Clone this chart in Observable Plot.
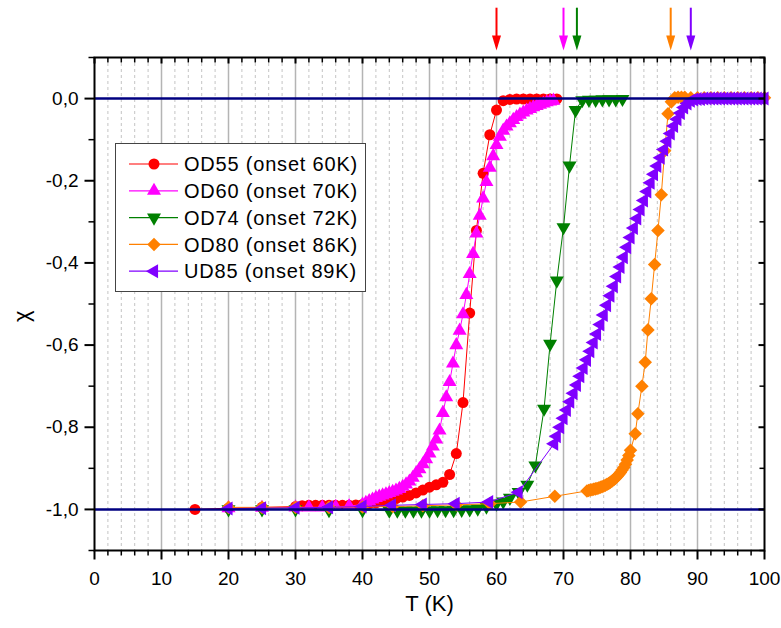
<!DOCTYPE html>
<html>
<head>
<meta charset="utf-8">
<script src="https://cdn.jsdelivr.net/npm/d3@7"></script>
<script src="https://cdn.jsdelivr.net/npm/@observablehq/plot@0.6"></script>
<style>
  html, body { margin: 0; padding: 0; background: white; }
  #wrap { position: relative; width: 781px; height: 628px; font-family: "Liberation Sans", Arial, sans-serif; }
  #legend { position: absolute; left: 115px; top: 143px; width: 249px; height: 147px; border: 1.5px solid #444; background: white; }
</style>
</head>
<body>
<div id="wrap"></div>
<script>
// ---------- data (T in K, chi) ----------
const od55 = [[15,-1.000],[20,-0.997],[25,-0.995],[30,-0.993],[31,-0.991],[32,-0.990],[33,-0.990],[34,-0.990],[35,-0.990],[36,-0.990],[37,-0.990],[38,-0.990],[39,-0.989],[40,-0.988],[41,-0.986],[42,-0.984],[43,-0.981],[44,-0.978],[45,-0.974],[46,-0.970],[47,-0.966],[48,-0.960],[49,-0.953],[50,-0.946],[51,-0.940],[52,-0.934],[53,-0.915],[54,-0.864],[55,-0.740],[56,-0.522],[57,-0.321],[58,-0.182],[59,-0.088],[60,-0.028],[61,-0.005],[62,-0.002],[63,-0.001],[64,-0.001],[65,-0.001],[66,-0.001],[67,-0.001],[68,-0.001],[69,-0.001]];

const od60 = [[20,-0.997],[25,-0.996],[30,-0.995],[32,-0.995],[34,-0.995],[36,-0.994],[38,-0.992],[40,-0.988],[40.5,-0.984],[41,-0.980],[41.5,-0.976],[42,-0.972],[42.5,-0.969],[43,-0.966],[43.5,-0.963],[44,-0.960],[44.5,-0.957],[45,-0.954],[45.5,-0.950],[46,-0.945],[46.5,-0.939],[47,-0.932],[47.5,-0.923],[48,-0.912],[48.5,-0.902],[49,-0.890],[49.5,-0.878],[50,-0.864],[50.5,-0.847],[51,-0.830],[51.5,-0.808],[52,-0.765],[52.5,-0.727],[53,-0.690],[53.5,-0.645],[54,-0.600],[54.5,-0.565],[55,-0.525],[55.5,-0.478],[56,-0.427],[56.5,-0.378],[57,-0.328],[57.5,-0.285],[58,-0.243],[58.5,-0.203],[59,-0.168],[59.5,-0.140],[60,-0.113],[60.5,-0.093],[61,-0.078],[61.5,-0.068],[62,-0.060],[62.5,-0.052],[63,-0.045],[63.5,-0.039],[64,-0.034],[64.5,-0.029],[65,-0.025],[65.5,-0.021],[66,-0.018],[66.5,-0.015],[67,-0.012],[67.5,-0.009],[68,-0.007],[68.5,-0.005]];

const od74 = [[20,-1.000],[25,-1.000],[30,-1.000],[35,-1.002],[40,-1.002],[44,-1.003],[45.2,-1.003],[46.4,-1.003],[47.6,-1.003],[48.8,-1.003],[50,-1.003],[51.2,-1.002],[52.4,-1.002],[53.6,-1.002],[54.8,-1.001],[56,-1.000],[57.2,-0.998],[58.5,-0.993],[60,-0.986],[61,-0.981],[62,-0.972],[63.3,-0.958],[64.6,-0.940],[65.8,-0.893],[67.1,-0.755],[68,-0.597],[69,-0.443],[70,-0.313],[70.9,-0.163],[71.8,-0.028],[72.8,-0.004],[73.8,-0.003],[74.8,-0.003],[75.8,-0.002],[76.8,-0.002],[77.8,-0.002],[78.8,-0.001]];

const od80 = [[20,-0.995],[25,-0.995],[30,-0.995],[35,-0.995],[40,-0.994],[44.5,-0.993],[49,-0.991],[54,-0.989],[59,-0.986],[63.6,-0.982],[68.7,-0.968],[73.5,-0.955],[73.75,-0.954],[74,-0.953],[74.25,-0.952],[74.5,-0.951],[74.75,-0.950],[75,-0.949],[75.25,-0.948],[75.5,-0.946],[75.75,-0.945],[76,-0.943],[76.25,-0.941],[76.5,-0.939],[76.75,-0.937],[77,-0.934],[77.25,-0.931],[77.5,-0.928],[77.75,-0.924],[78,-0.920],[78.25,-0.915],[78.5,-0.910],[78.75,-0.904],[79,-0.898],[79.25,-0.890],[79.5,-0.880],[79.75,-0.869],[80,-0.856],[80.7,-0.816],[81.1,-0.767],[81.7,-0.700],[82.2,-0.642],[82.6,-0.563],[83.1,-0.487],[83.6,-0.404],[84.1,-0.321],[84.6,-0.234],[85.1,-0.127],[85.6,-0.037],[86.1,-0.008],[86.6,0.002],[87.1,0.003],[87.6,0.003],[88.1,0.003],[89,0.002],[90,0.002],[91,0.002],[92,0.002],[93,0.002],[94,0.002],[95,0.002],[96,0.002],[97,0.002],[98,0.002],[99,0.002],[100,0.002]];

const ud85 = [[20,-0.998],[25,-0.997],[30,-0.996],[35,-0.995],[40,-0.993],[44.4,-0.990],[49,-0.988],[53.9,-0.986],[58.9,-0.982],[63.3,-0.958],[68.6,-0.840],[69,-0.822],[69.5,-0.800],[70,-0.778],[70.5,-0.758],[71,-0.738],[71.5,-0.717],[72,-0.697],[72.5,-0.676],[73,-0.656],[73.5,-0.636],[74,-0.615],[74.5,-0.594],[75,-0.573],[75.5,-0.550],[76,-0.527],[76.5,-0.503],[77,-0.480],[77.5,-0.457],[78,-0.433],[78.5,-0.410],[79,-0.386],[79.5,-0.362],[80,-0.338],[80.5,-0.315],[81,-0.292],[81.5,-0.270],[82,-0.248],[82.5,-0.226],[83,-0.205],[83.5,-0.184],[84,-0.164],[84.5,-0.144],[85,-0.124],[85.5,-0.104],[86,-0.085],[86.5,-0.067],[87,-0.050],[87.5,-0.035],[88,-0.022],[88.5,-0.012],[89,-0.005],[89.5,-0.002],[90,-0.001],[90.5,-0.001],[91,0],[91.5,0],[92,0],[92.5,0],[93,0],[93.5,0],[94,0],[94.5,0],[95,0],[95.5,0],[96,0],[96.5,0],[97,0],[97.5,0],[98,0],[98.5,0],[99,0],[99.5,0],[100,0]];

const seriesNames = ["OD55 (onset 60K)", "OD60 (onset 70K)", "OD74 (onset 72K)", "OD80 (onset 86K)", "UD85 (onset 89K)"];
const seriesColors = ["#ff0000", "#ff00ff", "#008000", "#ff8000", "#8000ff"];
const onsets = [60, 70, 72, 86, 89];

const xMajor = [0, 10, 20, 30, 40, 50, 60, 70, 80, 90, 100];
const xMinor = [2,4,6,8,12,14,16,18,22,24,26,28,32,34,36,38,42,44,46,48,52,54,56,58,62,64,66,68,72,74,76,78,82,84,86,88,92,94,96,98];
const xGridMajor = [10, 20, 30, 40, 50, 60, 70, 80, 90];
const yMajor = [0, -0.2, -0.4, -0.6, -0.8, -1.0];
const yMinor = [0.1, -0.1, -0.3, -0.5, -0.7, -0.9, -1.1];
const yRefLines = [0, -1];

const xDomain = [0, 100];
const yDomain = [-1.1, 0.1];
const arrowFrom = 0.22, arrowTo = 0.117;

// ---------- symbols ----------
const series = [
  {data: od55, symbol: "circle", r: 5.5, rotate: 0},
  {data: od60, symbol: "triangle", r: 5.2, rotate: 0},
  {data: od74, symbol: "triangle", r: 5.2, rotate: 180},
  {data: od80, symbol: "square", r: 5.4, rotate: 45},
  {data: ud85, symbol: "triangle", r: 5.2, rotate: -90}
].map((s, i) => ({...s, color: seriesColors[i], name: seriesNames[i]}));

const seg = (dx, dy) => ({draw(c) { c.moveTo(0, 0); c.lineTo(dx, dy); }});
const arrowHead = {draw(c) { c.moveTo(-4.5, -15); c.lineTo(4.5, -15); c.lineTo(0, 0); c.closePath(); }};
const fmtY = d => (d < 0 ? "-" : "") + Math.abs(d).toFixed(1).replace(".", ",");

const marks = [
  Plot.ruleX(xMinor, {stroke: "#c4c4c4", strokeWidth: 1, strokeDasharray: "3,3"}),
  Plot.ruleX(xGridMajor, {stroke: "#b4b4b4", strokeWidth: 1.5})
];
for (const s of series) {
  marks.push(Plot.line(s.data, {x: d => d[0], y: d => d[1], stroke: s.color, strokeWidth: 1}));
  marks.push(Plot.dot(s.data, {x: d => d[0], y: d => d[1], symbol: s.symbol, r: s.r, rotate: s.rotate, fill: s.color, stroke: "none"}));
}
marks.push(
  Plot.ruleY(yRefLines, {stroke: "#000080", strokeWidth: 2.5}),
  Plot.frame({stroke: "black", strokeWidth: 2}),
  // bottom ticks (outward)
  Plot.dot(xMajor, {x: d => d, y: yDomain[0], symbol: seg(0, 9), stroke: "black", strokeWidth: 2, fill: "none"}),
  Plot.dot(xMinor, {x: d => d, y: yDomain[0], symbol: seg(0, 5), stroke: "black", strokeWidth: 1.5, fill: "none"}),
  // top ticks (inward)
  Plot.dot(xMajor, {x: d => d, y: yDomain[1], symbol: seg(0, 6), stroke: "black", strokeWidth: 2, fill: "none"}),
  Plot.dot(xMinor, {x: d => d, y: yDomain[1], symbol: seg(0, 5), stroke: "black", strokeWidth: 1.5, fill: "none"}),
  // left ticks (outward)
  Plot.dot(yMajor, {x: xDomain[0], y: d => d, symbol: seg(-10, 0), stroke: "black", strokeWidth: 2, fill: "none"}),
  Plot.dot(yMinor, {x: xDomain[0], y: d => d, symbol: seg(-6, 0), stroke: "black", strokeWidth: 1.5, fill: "none"}),
  // right ticks (inward)
  Plot.dot(yMajor, {x: xDomain[1], y: d => d, symbol: seg(-6, 0), stroke: "black", strokeWidth: 2, fill: "none"}),
  Plot.dot(yMinor, {x: xDomain[1], y: d => d, symbol: seg(-5, 0), stroke: "black", strokeWidth: 1.5, fill: "none"}),
  // tick labels
  Plot.text(xMajor, {x: d => d, y: yDomain[0], text: d => String(d), dy: 28, fontSize: 19}),
  Plot.text(yMajor, {x: xDomain[0], y: d => d, text: fmtY, textAnchor: "end", dx: -16, fontSize: 19}),
  // axis titles
  Plot.text(["T (K)"], {frameAnchor: "bottom", text: d => d, dy: 60, fontSize: 22}),
  Plot.text(["χ"], {frameAnchor: "left", text: d => d, dx: -73, dy: 18, rotate: -90, fontSize: 22}),
  // onset arrows
  Plot.ruleX(onsets, {x: d => d, y1: arrowFrom, y2: arrowTo + 0.02, stroke: (d, i) => seriesColors[i], strokeWidth: 2}),
  Plot.dot(onsets, {x: d => d, y: arrowTo, symbol: arrowHead, fill: (d, i) => seriesColors[i], stroke: "none"})
);

const chart = Plot.plot({
  width: 781,
  height: 628,
  marginLeft: 94,
  marginRight: 17,
  marginTop: 57,
  marginBottom: 78,
  x: {domain: xDomain, axis: null},
  y: {domain: yDomain, axis: null},
  color: {type: "identity"},
  style: {fontFamily: "'Liberation Sans', Arial, sans-serif", background: "white", overflow: "visible"},
  marks
});
document.getElementById("wrap").appendChild(chart);

// ---------- legend ----------
const leg = d3.select("#wrap").append("div").attr("id", "legend");
const lsvg = leg.append("svg").attr("width", 249).attr("height", 147);
const symMap = {circle: d3.symbolCircle, triangle: d3.symbolTriangle, square: d3.symbolSquare};
series.forEach((s, i) => {
  const g = lsvg.append("g").attr("transform", `translate(0,${20 + i * 26.8})`);
  g.append("line").attr("x1", 13).attr("x2", 62).attr("y1", 0).attr("y2", 0)
    .attr("stroke", s.color).attr("stroke-width", 1.2);
  g.append("path").attr("d", d3.symbol(symMap[s.symbol], Math.PI * s.r * s.r)())
    .attr("transform", `translate(38,0) rotate(${s.rotate})`).attr("fill", s.color);
  g.append("text").attr("x", 68).attr("y", 0).attr("dy", "0.36em")
    .attr("font-size", 20).attr("letter-spacing", "0.8px")
    .attr("font-family", "'Liberation Sans', Arial, sans-serif").attr("fill", "black").text(s.name);
});
</script>
</body>
</html>
